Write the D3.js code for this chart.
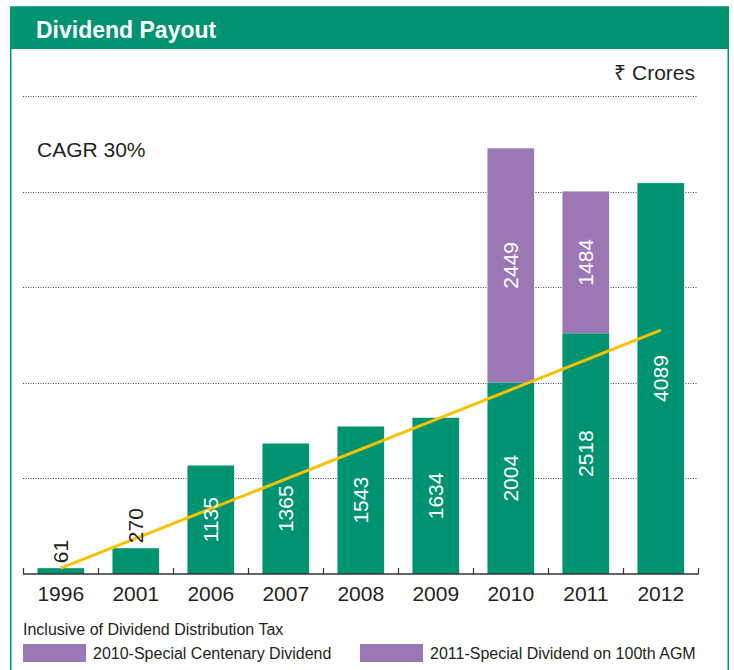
<!DOCTYPE html>
<html>
<head>
<meta charset="utf-8">
<script src="https://cdn.jsdelivr.net/npm/d3@7"></script>
<style>
  body { margin: 0; background: #fff; }
  svg { display: block; font-family: 'Liberation Sans', Arial, sans-serif; }
</style>
</head>
<body>
<div id="chart"></div>
<script>
// values (Rs crores)
const years = ['1996', '2001', '2006', '2007', '2008', '2009', '2010', '2011', '2012']
const dividend = [61, 270, 1135, 1365, 1543, 1634, 2004, 2518, 4089]
const specialDividend = [0, 0, 0, 0, 0, 0, 2449, 1484, 0]
const gridValues = [1000, 2000, 3000, 4000, 5000]
const cagrYears = ['1996', '2012']
const cagrValues = [61, 2550]
const legendLabels = ['2010-Special Centenary Dividend', '2011-Special Dividend on 100th AGM']

const green = '#009372'
const purple = '#9b77b4'
const yellow = '#f9c200'
const ink = '#231f20'

const W = 734
const H = 670
const margin = { top: 96, right: 36, bottom: 96, left: 23 }
const baseline = H - margin.bottom

const svg = d3.select('#chart').append('svg')
  .attr('width', W)
  .attr('height', H)

// frame + header
svg.append('rect')
  .attr('x', 10.75).attr('y', 7)
  .attr('width', 717.5).attr('height', H + 20)
  .attr('fill', 'none')
  .attr('stroke', green)
  .attr('stroke-width', 1.5)

svg.append('rect')
  .attr('x', 10).attr('y', 7)
  .attr('width', 719).attr('height', 42)
  .attr('fill', green)

svg.append('text')
  .attr('x', 36).attr('y', 38)
  .attr('fill', '#fff')
  .attr('font-size', 23)
  .attr('font-weight', 'bold')
  .text('Dividend Payout')

svg.append('text')
  .attr('x', 695).attr('y', 80)
  .attr('text-anchor', 'end')
  .attr('fill', ink)
  .attr('font-size', 21)
  .text('₹ Crores')

svg.append('text')
  .attr('x', 37).attr('y', 157)
  .attr('fill', ink)
  .attr('font-size', 21)
  .text('CAGR 30%')

const x = d3.scaleBand()
  .domain(years)
  .range([23.3, 698.3])
  .paddingInner(0.377)
  .paddingOuter(0.1885)

const y = d3.scaleLinear()
  .domain([0, 5000])
  .range([baseline, margin.top])

// dotted gridlines
svg.append('g')
  .selectAll('line')
  .data(gridValues)
  .join('line')
  .attr('x1', 23)
  .attr('x2', 698)
  .attr('y1', (d) => Math.round(y(d)) + 0.5)
  .attr('y2', (d) => Math.round(y(d)) + 0.5)
  .attr('stroke', '#444')
  .attr('stroke-width', 1)
  .attr('stroke-dasharray', '1,1.5')

const rows = years.map((year, i) => ({ year, base: dividend[i], special: specialDividend[i] }))

// bars
const bars = svg.append('g')

bars.selectAll('rect.base')
  .data(rows)
  .join('rect')
  .attr('class', 'base')
  .attr('x', (d) => x(d.year))
  .attr('width', x.bandwidth())
  .attr('y', (d) => y(d.base))
  .attr('height', (d) => baseline - y(d.base))
  .attr('fill', green)

bars.selectAll('rect.special')
  .data(rows.filter((d) => d.special > 0))
  .join('rect')
  .attr('class', 'special')
  .attr('x', (d) => x(d.year))
  .attr('width', x.bandwidth())
  .attr('y', (d) => y(d.base + d.special))
  .attr('height', (d) => y(d.base) - y(d.base + d.special))
  .attr('fill', purple)

// axis with ticks at band edges pointing up
const axis = svg.append('g')

axis.append('line')
  .attr('x1', 23).attr('x2', 698.6)
  .attr('y1', baseline).attr('y2', baseline)
  .attr('stroke', '#333')
  .attr('stroke-width', 1.5)

axis.selectAll('line.tick')
  .data(d3.range(years.length + 1))
  .join('line')
  .attr('class', 'tick')
  .attr('x1', (i) => Math.round(x.range()[0] + i * x.step()) + 0.5)
  .attr('x2', (i) => Math.round(x.range()[0] + i * x.step()) + 0.5)
  .attr('y1', baseline)
  .attr('y2', baseline - 6)
  .attr('stroke', '#333')
  .attr('stroke-width', 1.2)

axis.selectAll('text')
  .data(years)
  .join('text')
  .attr('x', (d) => x(d) + x.bandwidth() / 2)
  .attr('y', 601)
  .attr('text-anchor', 'middle')
  .attr('fill', ink)
  .attr('font-size', 21)
  .text((d) => d)

// CAGR trend line
const line = d3.line()
  .x((d) => x(d.year) + x.bandwidth() / 2)
  .y((d) => y(d.value))

svg.append('path')
  .datum(cagrYears.map((year, i) => ({ year, value: cagrValues[i] })))
  .attr('d', line)
  .attr('fill', 'none')
  .attr('stroke', yellow)
  .attr('stroke-width', 3)

// value labels, rotated
const labels = []
rows.forEach((d) => {
  labels.push({ year: d.year, value: d.base, lo: 0, hi: d.base })
  if (d.special > 0) labels.push({ year: d.year, value: d.special, lo: d.base, hi: d.base + d.special })
})

svg.append('g')
  .selectAll('text')
  .data(labels)
  .join('text')
  .each(function (d) {
    const cx = x(d.year) + x.bandwidth() / 2
    const segHeight = y(d.lo) - y(d.hi)
    const sel = d3.select(this)
      .attr('font-size', 21)
      .attr('dy', '0.36em')
      .text(d.value)
    if (segHeight < 70) {
      // too small: sits above the bar in dark ink
      sel.attr('transform', `translate(${cx}, ${y(d.hi) - 5}) rotate(-90)`)
        .attr('text-anchor', 'start')
        .attr('fill', ink)
    } else {
      const cy = (y(d.lo) + y(d.hi)) / 2
      sel.attr('transform', `translate(${cx}, ${cy}) rotate(-90)`)
        .attr('text-anchor', 'middle')
        .attr('fill', '#fff')
    }
  })

// notes + legend
svg.append('text')
  .attr('x', 23).attr('y', 635)
  .attr('fill', ink)
  .attr('font-size', 16)
  .text('Inclusive of Dividend Distribution Tax')

const legend = svg.append('g')
  .selectAll('g')
  .data(legendLabels)
  .join('g')
  .attr('transform', (d, i) => `translate(${i === 0 ? 23 : 360}, 644)`)

legend.append('rect')
  .attr('width', 63)
  .attr('height', 18)
  .attr('fill', purple)

legend.append('text')
  .attr('x', 70)
  .attr('y', 15)
  .attr('fill', ink)
  .attr('font-size', 16)
  .text((d) => d)
</script>
</body>
</html>
